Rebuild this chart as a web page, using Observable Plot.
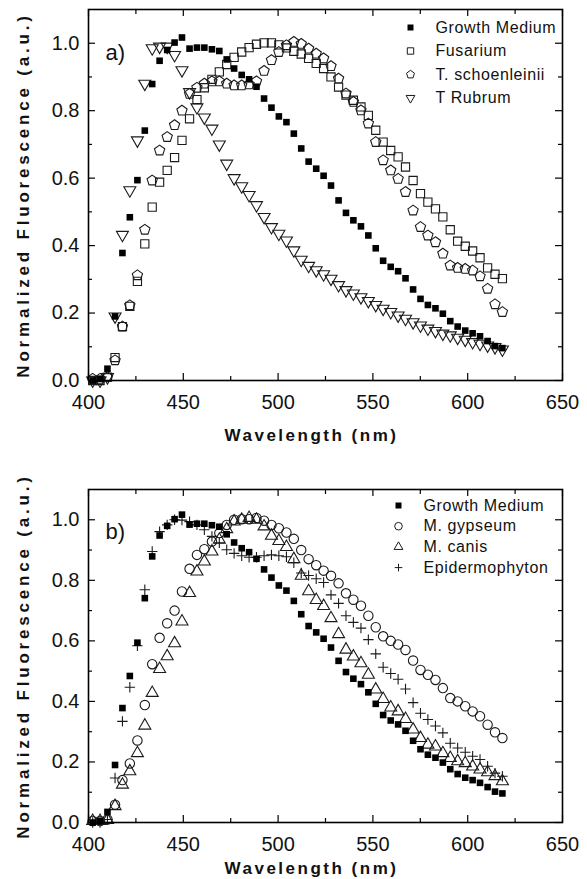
<!DOCTYPE html>
<html><head><meta charset="utf-8">
<script src="https://cdn.jsdelivr.net/npm/d3@7"></script>
<script src="https://cdn.jsdelivr.net/npm/@observablehq/plot@0.6"></script>
<style>
body{margin:0;background:#fff;}
#chart{width:587px;}
#chart svg{display:block;font-family:"Liberation Sans",Arial,sans-serif;background:#fff;}
</style></head><body><div id="chart"></div>
<script>
// ---- data ----
const wavelength = [402.2,406.1,410.0,414.0,417.9,421.8,425.8,429.7,433.6,437.5,441.5,445.4,449.3,453.3,457.2,461.1,465.1,469.0,472.9,476.8,480.8,484.7,488.6,492.6,496.5,500.4,504.4,508.3,512.2,516.1,520.1,524.0,527.9,531.9,535.8,539.7,543.7,547.6,551.5,555.4,559.4,563.3,567.2,571.2,575.1,579.0,583.0,586.9,590.8,594.7,598.7,602.6,606.5,610.5,614.4,618.3];
const growthMedium = [0.000,0.005,0.035,0.190,0.378,0.484,0.594,0.741,0.879,0.948,0.980,1.002,1.017,0.984,0.987,0.987,0.982,0.977,0.952,0.925,0.906,0.893,0.871,0.836,0.809,0.783,0.766,0.732,0.688,0.649,0.628,0.607,0.578,0.534,0.497,0.475,0.457,0.430,0.392,0.355,0.337,0.324,0.303,0.270,0.242,0.224,0.214,0.198,0.176,0.160,0.148,0.140,0.131,0.117,0.102,0.096];
const fusarium = [0.000,0.000,0.010,0.068,0.160,0.220,0.294,0.405,0.514,0.588,0.623,0.661,0.712,0.776,0.833,0.868,0.893,0.915,0.937,0.958,0.974,0.987,0.997,1.001,1.001,0.995,0.986,0.976,0.968,0.955,0.940,0.925,0.900,0.870,0.846,0.831,0.811,0.786,0.742,0.707,0.682,0.663,0.633,0.593,0.554,0.529,0.509,0.485,0.447,0.413,0.398,0.384,0.364,0.334,0.315,0.302];
const tSchoenleinii = [0.005,0.005,0.010,0.060,0.160,0.223,0.312,0.447,0.593,0.682,0.722,0.757,0.800,0.850,0.868,0.880,0.887,0.887,0.880,0.875,0.875,0.878,0.887,0.918,0.950,0.974,0.994,1.004,0.998,0.984,0.969,0.955,0.932,0.895,0.851,0.826,0.801,0.762,0.707,0.653,0.623,0.598,0.559,0.504,0.455,0.430,0.410,0.376,0.341,0.334,0.331,0.326,0.309,0.272,0.226,0.203];
const tRubrum = [0.000,0.000,0.010,0.190,0.432,0.564,0.712,0.880,0.985,0.990,0.990,0.965,0.920,0.855,0.810,0.780,0.747,0.700,0.643,0.600,0.576,0.550,0.520,0.485,0.455,0.435,0.415,0.386,0.358,0.340,0.327,0.315,0.302,0.283,0.268,0.258,0.247,0.236,0.224,0.213,0.203,0.193,0.183,0.173,0.163,0.154,0.147,0.139,0.134,0.127,0.121,0.114,0.109,0.104,0.099,0.092];
const mGypseum = [0.005,0.005,0.010,0.059,0.140,0.195,0.271,0.388,0.523,0.610,0.658,0.700,0.763,0.838,0.884,0.903,0.928,0.956,0.983,1.000,1.002,1.002,1.006,0.997,0.983,0.972,0.958,0.937,0.900,0.870,0.850,0.832,0.815,0.790,0.757,0.736,0.716,0.683,0.645,0.615,0.600,0.588,0.570,0.535,0.504,0.488,0.471,0.444,0.411,0.400,0.384,0.367,0.351,0.323,0.298,0.279];
const mCanis = [0.005,0.005,0.008,0.054,0.125,0.169,0.229,0.320,0.428,0.507,0.549,0.592,0.664,0.758,0.829,0.862,0.895,0.934,0.969,0.994,1.000,1.006,1.000,0.978,0.947,0.930,0.910,0.870,0.815,0.764,0.735,0.715,0.675,0.622,0.571,0.548,0.526,0.488,0.439,0.408,0.380,0.367,0.342,0.307,0.279,0.257,0.251,0.229,0.213,0.202,0.196,0.185,0.175,0.166,0.153,0.136];
const epidermophyton = [0.000,0.000,0.010,0.147,0.334,0.447,0.584,0.769,0.895,0.961,0.983,1.000,0.999,0.994,0.983,0.967,0.945,0.924,0.901,0.889,0.881,0.876,0.876,0.881,0.884,0.881,0.878,0.858,0.824,0.816,0.805,0.793,0.752,0.724,0.683,0.661,0.642,0.604,0.557,0.513,0.492,0.473,0.441,0.396,0.361,0.340,0.319,0.296,0.262,0.246,0.232,0.219,0.208,0.186,0.163,0.153];

const seriesNamesA = ["Growth Medium","Fusarium","T. schoenleinii","T Rubrum"];
const seriesNamesB = ["Growth Medium","M. gypseum","M. canis","Epidermophyton"];
const xTickLabels = [400,450,500,550,600,650];
const xMinorTicks = [425,475,525,575,625];
const yTickLabels = [0.0,0.2,0.4,0.6,0.8,1.0];
const yMinorTicks = [0.1,0.3,0.5,0.7,0.9];
const xTitle = "Wavelength (nm)";
const yTitle = "Normalized Fluorescence (a.u.)";

// ---- custom marker shapes ----
const sym = f => ({draw(c, size){ const r = Math.sqrt(size/Math.PI); f(c, r); }});
const squareSym = sym((c,r)=>{c.moveTo(-r,-r);c.lineTo(r,-r);c.lineTo(r,r);c.lineTo(-r,r);c.closePath();});
const pentagonSym = sym((c,r)=>{for(let k=0;k<5;k++){const a=-Math.PI/2+k*2*Math.PI/5;const x=r*Math.cos(a),y=r*Math.sin(a);if(k)c.lineTo(x,y);else c.moveTo(x,y);}c.closePath();});
const triDownSym = sym((c,r)=>{c.moveTo(-r,-0.577*r);c.lineTo(r,-0.577*r);c.lineTo(0,1.155*r);c.closePath();});
const triUpSym = sym((c,r)=>{c.moveTo(-r,0.577*r);c.lineTo(r,0.577*r);c.lineTo(0,-1.155*r);c.closePath();});
const circleSym = sym((c,r)=>{c.moveTo(r,0);c.arc(0,0,r,0,2*Math.PI);c.closePath();});
const plusSym = sym((c,r)=>{c.moveTo(-r,0);c.lineTo(r,0);c.moveTo(0,-r);c.lineTo(0,r);});

const INK = "#1a1a1a";
const styleOf = {
  "Growth Medium": {symbol: squareSym, r: 3.3, lr: 3.0, fill: "#000", stroke: "none"},
  "Fusarium": {symbol: squareSym, r: 4.1, lr: 3.2, fill: "none", stroke: INK},
  "T. schoenleinii": {symbol: pentagonSym, r: 5.4, lr: 4.2, fill: "none", stroke: INK},
  "T Rubrum": {symbol: triDownSym, r: 6.0, lr: 4.4, fill: "none", stroke: INK},
  "M. gypseum": {symbol: circleSym, r: 4.7, lr: 3.8, fill: "none", stroke: INK},
  "M. canis": {symbol: triUpSym, r: 6.0, lr: 4.4, fill: "none", stroke: INK},
  "Epidermophyton": {symbol: plusSym, r: 5.2, lr: 3.8, fill: "none", stroke: INK}
};
const valuesOf = {
  "Growth Medium": growthMedium, "Fusarium": fusarium, "T. schoenleinii": tSchoenleinii,
  "T Rubrum": tRubrum, "M. gypseum": mGypseum, "M. canis": mCanis, "Epidermophyton": epidermophyton
};
const rows = name => wavelength.map((w,i)=>({w, v: valuesOf[name][i]}));

function panel({names, drawOrder, height, marginTop, marginBottom, tag, tagDy, legendDx, legendDy, legendStep, xTitleDy}) {
  const W = 587, mL = 88, mR = 25;
  const innerW = W - mL - mR, innerH = height - marginTop - marginBottom;
  const marks = [];
  // inward ticks
  marks.push(Plot.ruleX(xTickLabels, {x: d=>d, insetTop: innerH-7, stroke: "#000", strokeWidth: 1.2}));
  marks.push(Plot.ruleX(xMinorTicks, {x: d=>d, insetTop: innerH-4, stroke: "#000", strokeWidth: 1.2}));
  marks.push(Plot.ruleX(xTickLabels, {x: d=>d, insetBottom: innerH-7, stroke: "#000", strokeWidth: 1.2}));
  marks.push(Plot.ruleX(xMinorTicks, {x: d=>d, insetBottom: innerH-5, stroke: "#000", strokeWidth: 1.2}));
  marks.push(Plot.ruleY(yTickLabels, {y: d=>d, insetRight: innerW-7, stroke: "#000", strokeWidth: 1.2}));
  marks.push(Plot.ruleY(yMinorTicks, {y: d=>d, insetRight: innerW-4, stroke: "#000", strokeWidth: 1.2}));
  marks.push(Plot.ruleY(yTickLabels, {y: d=>d, insetLeft: innerW-7, stroke: "#000", strokeWidth: 1.2}));
  marks.push(Plot.ruleY(yMinorTicks, {y: d=>d, insetLeft: innerW-4, stroke: "#000", strokeWidth: 1.2}));
  marks.push(Plot.axisX({ticks: xTickLabels, tickSize: 0, tickPadding: 14, tickFormat: d=>String(d), fontSize: 20, label: null}));
  marks.push(Plot.axisY({ticks: yTickLabels, tickSize: 0, tickPadding: 9, tickFormat: d3.format(".1f"), fontSize: 20, label: null}));
  // data
  for (const name of drawOrder) {
    const s = styleOf[name];
    marks.push(Plot.dot(rows(name), {x: "w", y: "v", symbol: s.symbol, r: s.r, fill: s.fill, stroke: s.stroke, strokeWidth: 1.1}));
  }
  marks.push(Plot.frame({stroke: "#000", strokeWidth: 1.6}));
  // legend
  names.forEach((name, i) => {
    const s = styleOf[name];
    marks.push(Plot.dot([name], {frameAnchor: "top-left", dx: legendDx, dy: legendDy + i*legendStep, symbol: s.symbol, r: s.lr, fill: s.fill, stroke: s.stroke, strokeWidth: 1}));
    marks.push(Plot.text([name], {text: d=>d, frameAnchor: "top-left", dx: legendDx + 25, dy: legendDy + i*legendStep, textAnchor: "start", lineAnchor: "middle", fontSize: 16, fill: "#111"}));
  });
  marks.push(Plot.text([tag], {text: d=>d, frameAnchor: "top-left", dx: 17, dy: tagDy, textAnchor: "start", lineAnchor: "middle", fontSize: 22, fill: "#111"}));
  marks.push(Plot.text([xTitle], {text: d=>d, frameAnchor: "bottom", dx: -14, dy: xTitleDy, textAnchor: "middle", lineAnchor: "middle", fontSize: 17, fontWeight: "bold", fill: "#111"}));
  marks.push(Plot.text([yTitle], {text: d=>d, frameAnchor: "left", dx: -65, rotate: -90, textAnchor: "middle", lineAnchor: "middle", fontSize: 17, fontWeight: "bold", fill: "#111"}));
  const svg = Plot.plot({
    width: W, height, marginLeft: mL, marginRight: mR, marginTop, marginBottom,
    x: {domain: [400, 650], axis: null},
    y: {domain: [0, 1.1], axis: null},
    style: {fontFamily: '"Liberation Sans", Arial, sans-serif', fontSize: "20px", color: "#111", background: "#fff", overflow: "visible"},
    marks
  });
  // letter spacing like the original export
  svg.querySelectorAll("text").forEach(t => {
    const s = t.textContent;
    if (s === yTitle) t.style.letterSpacing = "3.8px";
    else if (s === xTitle) t.style.letterSpacing = "2.5px";
    else if (names.includes(s)) t.style.letterSpacing = "0.6px";
  });
  return svg;
}

const chart = document.getElementById("chart");
chart.appendChild(panel({names: seriesNamesA, drawOrder: ["Fusarium","T. schoenleinii","T Rubrum","Growth Medium"], height: 440, marginTop: 9, marginBottom: 60, tag: "a)", tagDy: 43, legendDx: 322, legendDy: 18, legendStep: 23.5, xTitleDy: 55}));
chart.appendChild(panel({names: seriesNamesB, drawOrder: ["M. gypseum","M. canis","Epidermophyton","Growth Medium"], height: 439, marginTop: 49, marginBottom: 57, tag: "b)", tagDy: 42, legendDx: 310, legendDy: 16, legendStep: 20.7, xTitleDy: 46}));
</script>
</body></html>
